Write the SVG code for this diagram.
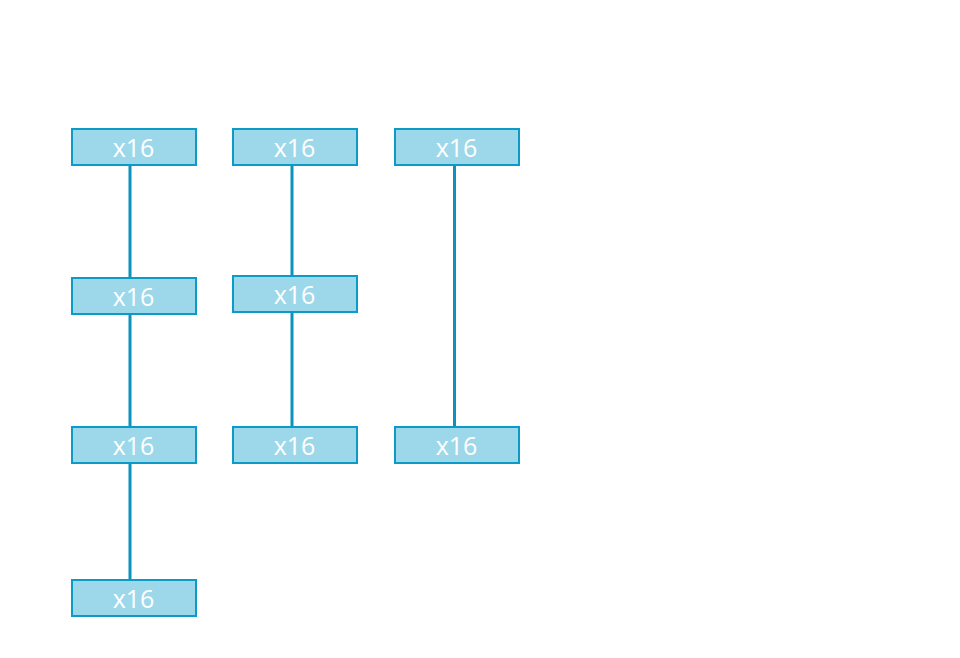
<svg xmlns="http://www.w3.org/2000/svg" width="960" height="658" viewBox="0 0 960 658">
<style>
.box{fill:#9dd8ea;stroke:#0b9bc6;stroke-width:2}
.lbl{font-family:"Open Sans",sans-serif;font-size:25px;fill:#ffffff;text-anchor:middle}
.edge{stroke:#0b93bd;stroke-width:3;fill:none}
</style>
<rect width="960" height="658" fill="#ffffff"/>
<g id="connectors">
<line class="edge" x1="130" y1="165" x2="130" y2="278"/>
<line class="edge" x1="130" y1="314" x2="130" y2="427"/>
<line class="edge" x1="130" y1="463" x2="130" y2="580"/>
<line class="edge" x1="292" y1="165" x2="292" y2="276"/>
<line class="edge" x1="292" y1="312" x2="292" y2="427"/>
<line class="edge" x1="454.5" y1="165" x2="454.5" y2="427"/>
</g>
<g id="n1"><rect class="box" x="72" y="129" width="124" height="36"/><text class="lbl" x="133.5" y="156.5">x16</text></g>
<g id="n2"><rect class="box" x="72" y="278" width="124" height="36"/><text class="lbl" x="133.5" y="305.5">x16</text></g>
<g id="n3"><rect class="box" x="72" y="427" width="124" height="36"/><text class="lbl" x="133.5" y="454.5">x16</text></g>
<g id="n4"><rect class="box" x="72" y="580" width="124" height="36"/><text class="lbl" x="133.5" y="607.5">x16</text></g>
<g id="n5"><rect class="box" x="233" y="129" width="124" height="36"/><text class="lbl" x="294.5" y="156.5">x16</text></g>
<g id="n6"><rect class="box" x="233" y="276" width="124" height="36"/><text class="lbl" x="294.5" y="303.5">x16</text></g>
<g id="n7"><rect class="box" x="233" y="427" width="124" height="36"/><text class="lbl" x="294.5" y="454.5">x16</text></g>
<g id="n8"><rect class="box" x="395" y="129" width="124" height="36"/><text class="lbl" x="456.5" y="156.5">x16</text></g>
<g id="n9"><rect class="box" x="395" y="427" width="124" height="36"/><text class="lbl" x="456.5" y="454.5">x16</text></g>
</svg>
